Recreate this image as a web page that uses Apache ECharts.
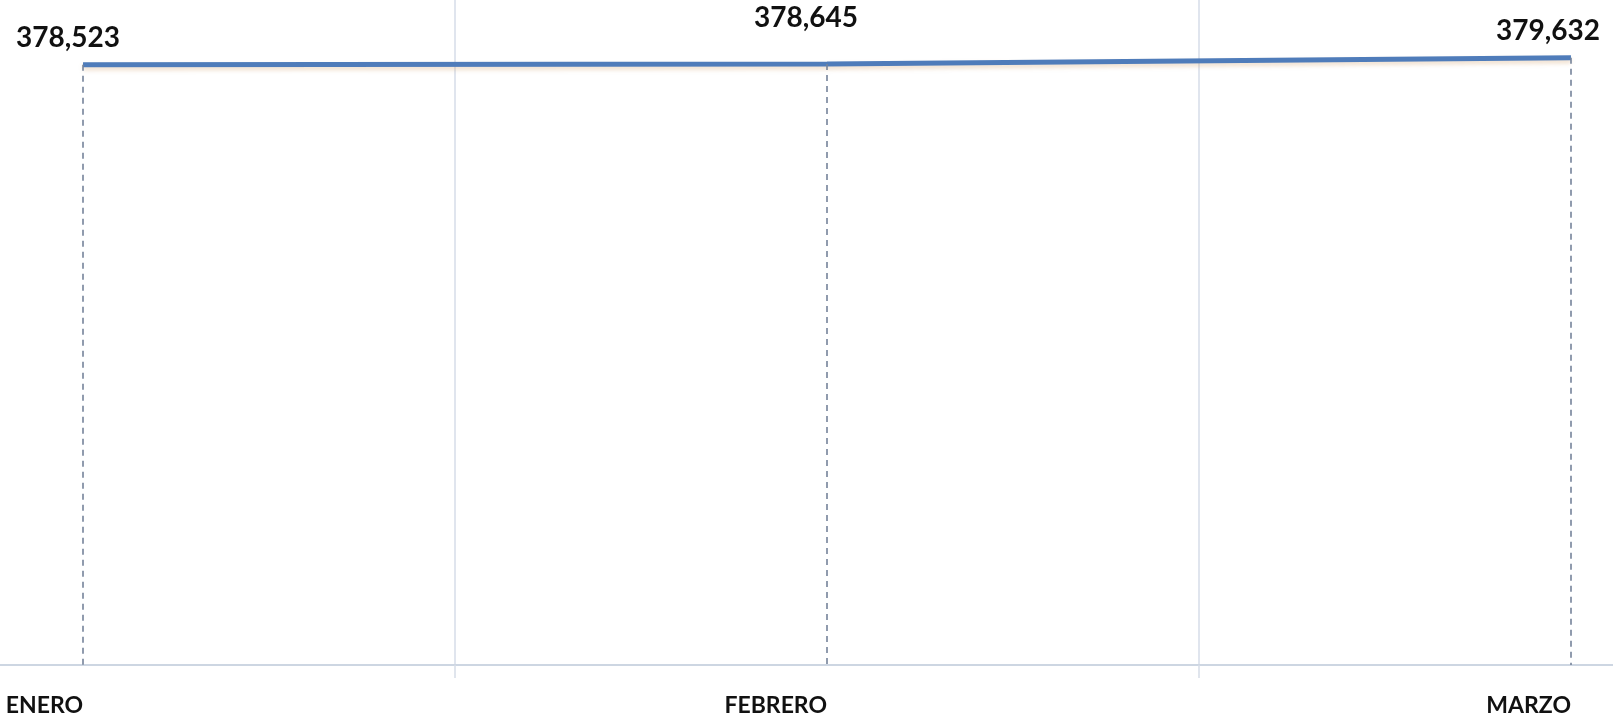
<!DOCTYPE html>
<html>
<head>
<meta charset="utf-8">
<script src="https://cdn.jsdelivr.net/npm/echarts@6/dist/echarts.min.js"></script>
<style>
  html, body { margin: 0; padding: 0; background: #ffffff; }
  #chart { width: 1613px; height: 722px; }
</style>
</head>
<body>
<div id="chart"></div>
<script>
// Monthly totals
const months = ['ENERO', 'FEBRERO', 'MARZO'];
const totals = [378523, 378645, 379632];

// Month slots on the horizontal axis: 0, 1, 2; separators sit between them
const monthSlots = months.map((m, i) => i);
const separators = [0.5, 1.5];

// Axis windows (both value axes; the vertical one is hidden)
const xMin = -0.1116;
const xMax = 2.0565;
const yMin = 283300;
const yMax = 388800;

// Per-point label nudges [dx, dy] in pixels
const labelNudge = [[-15, -13], [-21, -32], [-23, -13]];

const fmt = v => v.toLocaleString('en-US');
const fontFamily = 'Lato, "Open Sans", sans-serif';

const chart = echarts.init(document.getElementById('chart'), null, { renderer: 'canvas' });

chart.setOption({
  animation: false,
  backgroundColor: '#ffffff',
  grid: { left: 0, right: 0, top: 0, bottom: 57, containLabel: false },
  xAxis: {
    type: 'value',
    min: xMin,
    max: xMax,
    axisLine: { show: true, onZero: false, lineStyle: { color: '#cdd6e2', width: 2 } },
    axisTick: {
      show: true,
      customValues: separators,
      length: 13,
      lineStyle: { color: '#d6dde8', width: 1.5 }
    },
    splitLine: { show: true, lineStyle: { color: '#d6dde8', width: 1.5 } },
    axisLabel: {
      customValues: monthSlots,
      formatter: v => months[Math.round(v)],
      color: '#111111',
      fontFamily: fontFamily,
      fontWeight: 'bold',
      fontSize: 23,
      align: 'right',
      margin: 29
    }
  },
  yAxis: {
    type: 'value',
    min: yMin,
    max: yMax,
    show: false,
    splitLine: { show: false }
  },
  series: [{
    type: 'line',
    data: totals.map((v, i) => ({
      value: [monthSlots[i], v],
      label: { offset: labelNudge[i] }
    })),
    symbol: 'circle',
    symbolSize: 0.1,
    showSymbol: true,
    itemStyle: { color: '#4f7cba' },
    lineStyle: {
      color: '#4f7cba',
      width: 5,
      shadowColor: 'rgba(210,160,110,0.35)',
      shadowBlur: 4,
      shadowOffsetY: 3
    },
    label: {
      show: true,
      position: 'top',
      distance: 0,
      formatter: p => fmt(p.value[1]),
      color: '#111111',
      fontFamily: fontFamily,
      fontWeight: 'bold',
      fontSize: 28
    },
    markLine: {
      silent: true,
      symbol: ['none', 'none'],
      label: { show: false },
      lineStyle: { color: '#75839a', width: 1.6, type: [6, 5] },
      data: totals.map((v, i) => [
        { coord: [monthSlots[i], v] },
        { coord: [monthSlots[i], yMin] }
      ])
    }
  }]
});
</script>
</body>
</html>
